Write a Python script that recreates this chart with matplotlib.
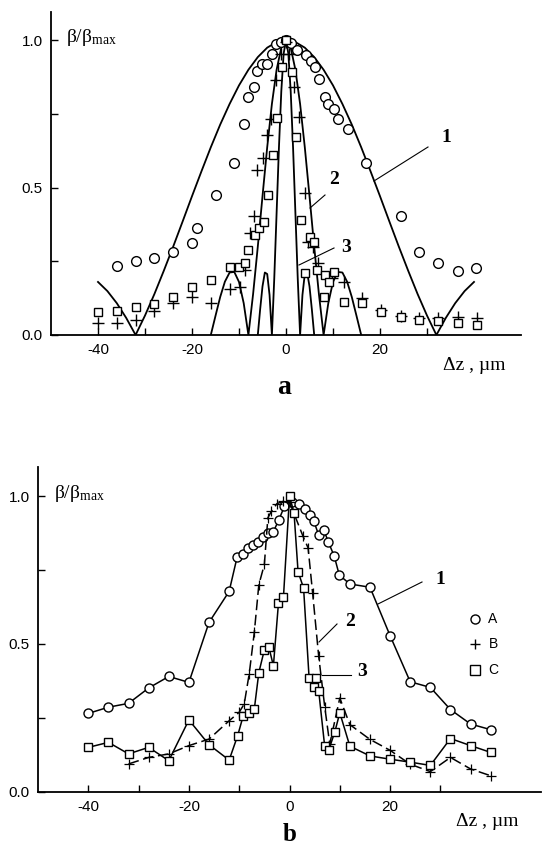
import matplotlib
matplotlib.use("Agg")
import matplotlib.pyplot as plt

plt.rcParams['mathtext.fontset'] = 'custom'
plt.rcParams['mathtext.rm'] = 'Liberation Serif'
plt.rcParams['mathtext.it'] = 'Liberation Serif:italic'

# --- panel a: theory curves ---
th1_x = [-40, -38, -36, -34, -32, -30, -28, -26, -24, -22, -20, -18, -16, -14, -12, -10, -8, -6, -4, -2,
         0, 2, 4, 6, 8, 10, 12, 14, 16, 18, 20, 22, 24, 26, 28, 30, 32, 34, 36, 38, 40]
th1_y = [0.180, 0.149, 0.108, 0.058, 0.0, 0.066, 0.139, 0.218, 0.300, 0.385, 0.471, 0.555, 0.637, 0.714,
         0.784, 0.847, 0.900, 0.943, 0.975, 0.994, 1.0, 0.994, 0.975, 0.943, 0.900, 0.847, 0.784, 0.714,
         0.637, 0.555, 0.471, 0.385, 0.300, 0.218, 0.139, 0.066, 0.0, 0.058, 0.108, 0.149, 0.180]
th2_x = [-16, -15, -14, -13, -12, -11, -10, -9, -8, -7, -6, -5, -4, -3, -2, -1,
         0, 1, 2, 3, 4, 5, 6, 7, 8, 9, 10, 11, 12, 13, 14, 15, 16]
th2_y = [0.0, 0.065, 0.129, 0.181, 0.212, 0.214, 0.180, 0.108, 0.0, 0.139, 0.300, 0.471, 0.637, 0.784,
         0.900, 0.975, 1.0, 0.975, 0.900, 0.784, 0.637, 0.471, 0.300, 0.139, 0.0, 0.108, 0.180, 0.214,
         0.212, 0.181, 0.129, 0.065, 0.0]
th3_x = [-6, -5.5, -5, -4.5, -4, -3.5, -3, -2.5, -2, -1.5, -1, -0.5,
         0, 0.5, 1, 1.5, 2, 2.5, 3, 3.5, 4, 4.5, 5, 5.5, 6]
th3_y = [0.0, 0.087, 0.165, 0.212, 0.207, 0.136, 0.0, 0.191, 0.414, 0.637, 0.827, 0.955,
         1.0, 0.955, 0.827, 0.637, 0.414, 0.191, 0.0, 0.136, 0.207, 0.212, 0.165, 0.087, 0.0]

# --- panel a: measured points ---
a_A_x = [-36, -32, -28, -24, -20, -19, -15, -11, -8.9, -8.1, -6.9, -6.1, -5.2, -4.0, -3.0, -2.1, -1.0, 0,
         1.0, 2.3, 4.2, 5.4, 6.1, 7.0, 8.2, 9.0, 10.2, 11.1, 13.2, 17, 24.4, 28.3, 32.3, 36.5, 40.5]
a_A_y = [0.234, 0.252, 0.260, 0.281, 0.313, 0.363, 0.475, 0.583, 0.717, 0.807, 0.843, 0.896, 0.919, 0.920,
         0.955, 0.986, 0.994, 1.0, 0.991, 0.968, 0.949, 0.929, 0.910, 0.868, 0.808, 0.785, 0.768, 0.734,
         0.700, 0.582, 0.403, 0.280, 0.246, 0.218, 0.226]
a_B_x = [-40, -36, -32, -28, -24, -20, -16, -12, -9.8, -8.8, -7.7, -6.9, -6.1, -4.9, -4.0, -3.2, -2.1, -1.0,
         0, 0.7, 1.8, 2.8, 4.1, 4.7, 5.8, 6.9, 9.7, 12.3, 16.2, 20.3, 24.4, 28.3, 32.4, 36.5, 40.6]
a_B_y = [0.042, 0.042, 0.051, 0.081, 0.107, 0.130, 0.110, 0.155, 0.164, 0.220, 0.345, 0.403, 0.559, 0.599,
         0.678, 0.733, 0.864, 0.955, 0.994, 0.955, 0.840, 0.740, 0.482, 0.314, 0.300, 0.243, 0.195, 0.180,
         0.124, 0.085, 0.066, 0.058, 0.058, 0.062, 0.058]
a_C_x = [-40, -36, -32, -28, -24, -20, -16, -12, -9.9, -8.8, -8.0, -6.7, -5.8, -4.7, -3.8, -2.7, -1.9, -0.8,
         0, 1.2, 2.1, 3.2, 4.1, 5.1, 6.0, 6.7, 8.1, 8.2, 9.2, 10.2, 12.3, 16.2, 20.3, 24.4, 28.3, 32.4, 36.5, 40.6]
a_C_y = [0.077, 0.081, 0.096, 0.105, 0.130, 0.164, 0.186, 0.232, 0.232, 0.245, 0.288, 0.339, 0.362, 0.384,
         0.475, 0.610, 0.738, 0.910, 1.0, 0.893, 0.672, 0.390, 0.209, 0.331, 0.316, 0.220, 0.130, 0.203,
         0.181, 0.215, 0.113, 0.110, 0.079, 0.062, 0.051, 0.049, 0.040, 0.034]

# --- panel b: measured points ---
b_A_x = [-40, -36, -32, -28, -24, -20, -16, -12, -10.4, -9.3, -8.3, -7.3, -6.3, -5.3, -4.3, -3.2, -2.1, -1.0,
         0.4, 1.9, 3.0, 4.0, 4.8, 5.8, 6.8, 7.7, 8.9, 9.9, 12, 16, 20, 24, 28, 32, 36, 40]
b_A_y = [0.265, 0.286, 0.299, 0.351, 0.390, 0.370, 0.573, 0.678, 0.795, 0.805, 0.824, 0.834, 0.846, 0.862,
         0.874, 0.880, 0.921, 0.966, 0.980, 0.975, 0.956, 0.938, 0.917, 0.869, 0.887, 0.846, 0.797, 0.733,
         0.703, 0.692, 0.528, 0.372, 0.353, 0.278, 0.229, 0.210]
b_B_x = [-32, -28, -24, -20, -16, -12, -10, -9, -8, -7, -6.1, -5.0, -4.3, -3.6, -2.5, -1.2, 0,
         2.7, 3.7, 4.6, 5.8, 7.0, 8.0, 10, 12, 16, 20, 24, 28, 32, 36, 40]
b_B_y = [0.094, 0.116, 0.128, 0.156, 0.178, 0.240, 0.269, 0.297, 0.400, 0.539, 0.700, 0.769, 0.927, 0.949,
         0.975, 0.983, 0.980, 0.864, 0.825, 0.672, 0.459, 0.288, 0.161, 0.317, 0.227, 0.177, 0.140, 0.093,
         0.068, 0.116, 0.077, 0.054]
b_C_x = [-40, -36, -32, -28, -24, -20, -16, -12, -10.3, -9.2, -8.0, -7.0, -6.1, -5.0, -4.1, -3.2, -2.2, -1.2,
         0, 0.9, 1.7, 2.8, 3.9, 4.8, 5.3, 5.8, 7.0, 7.8, 9.0, 10, 12, 16, 20, 24, 28, 32, 36, 40]
b_C_y = [0.150, 0.167, 0.128, 0.150, 0.105, 0.243, 0.159, 0.107, 0.190, 0.257, 0.265, 0.279, 0.403, 0.480,
         0.489, 0.426, 0.637, 0.659, 1.0, 0.944, 0.745, 0.689, 0.384, 0.354, 0.384, 0.342, 0.153, 0.141,
         0.202, 0.267, 0.154, 0.121, 0.110, 0.100, 0.089, 0.180, 0.156, 0.133]

xticks_major = [-40, -20, 0, 20]
xticks_minor = [-30, -10, 10, 30]
yticks_major = [0.0, 0.5, 1.0]
yticks_minor = [0.25, 0.75]

W, H = 542, 848
fig = plt.figure(figsize=(W / 100, H / 100), dpi=100)

serif = 'Liberation Serif'
sans = 'Liberation Sans'
mk = dict(color='black', mfc='white', mec='black', mew=1.0)


def style_axes(ax, ytop):
    ax.set_xlim(-50, 50)
    ax.set_ylim(0, ytop)
    ax.spines['top'].set_visible(False)
    ax.spines['right'].set_visible(False)
    ax.spines['left'].set_linewidth(1.3)
    ax.spines['bottom'].set_linewidth(1.3)
    ax.set_xticks(xticks_major)
    ax.set_xticks(xticks_minor, minor=True)
    ax.set_yticks(yticks_major)
    ax.set_yticks(yticks_minor, minor=True)
    ax.set_xticklabels([str(t) for t in xticks_major])
    ax.set_yticklabels(['0.0', '0.5', '1.0'])
    ax.tick_params(which='both', direction='in', length=5, width=1.0, labelsize=11, pad=6)
    for lab in ax.get_xticklabels() + ax.get_yticklabels():
        lab.set_family(sans)


# --- panel a ---
ax1 = fig.add_axes([51 / W, 1 - 335 / H, 470 / W, 323 / H])
style_axes(ax1, 1.096)
ax1.plot(th1_x, th1_y, color='black', lw=1.3)
ax1.plot(th2_x, th2_y, color='black', lw=1.3)
ax1.plot(th3_x, th3_y, color='black', lw=1.3)
ax1.plot(a_A_x, a_A_y, ls='none', marker='o', ms=7, **mk)
ax1.plot(a_B_x, a_B_y, ls='none', marker='+', ms=8, **mk)
ax1.plot(a_C_x, a_C_y, ls='none', marker='s', ms=6, **mk)

# --- panel b ---
ax2 = fig.add_axes([38 / W, 1 - 791.7 / H, 503 / W, 325 / H])
style_axes(ax2, 1.10)
ax2.plot(b_A_x, b_A_y, color='black', lw=1.1, marker='o', ms=6.5, mfc='white', mec='black', mew=1.0)
ax2.plot(b_B_x, b_B_y, color='black', lw=1.1, ls=(0, (7, 3)), marker='+', ms=7.5, mew=0.9)
ax2.plot(b_C_x, b_C_y, color='black', lw=1.1, marker='s', ms=6, mfc='white', mec='black', mew=1.0)


def ftext(x, y, s, **kw):
    fig.text(x / W, 1 - y / H, s, **kw)


def fline(x0, y0, x1, y1):
    fig.add_artist(plt.Line2D([x0 / W, x1 / W], [1 - y0 / H, 1 - y1 / H], color='black', lw=0.8))


ylab = r'$\mathrm{β/β_{max}}$'
ftext(66, 37, ylab, fontsize=14, ha='left', va='center')
ftext(54, 494, ylab, fontsize=14, ha='left', va='center')
ftext(474, 365, 'Δz , µm', family=serif, fontsize=14, ha='center', va='center')
ftext(487, 821, 'Δz , µm', family=serif, fontsize=14, ha='center', va='center')
ftext(284, 387, 'a', family=serif, fontsize=20, weight='bold', ha='center', va='center')
ftext(290, 846, 'b', family=serif, fontsize=18, weight='bold', ha='center', va='bottom')

# curve labels, panel a
ftext(446, 138, '1', family=serif, fontsize=14, weight='bold', ha='center', va='center')
fline(428, 147, 374, 181)
ftext(334, 180, '2', family=serif, fontsize=14, weight='bold', ha='center', va='center')
fline(325, 195, 310, 208)
ftext(346, 247, '3', family=serif, fontsize=14, weight='bold', ha='center', va='center')
fline(334, 248, 299, 265)

# curve labels, panel b
ftext(440, 579, '1', family=serif, fontsize=14, weight='bold', ha='center', va='center')
fline(422, 582, 378, 604)
ftext(350, 621, '2', family=serif, fontsize=14, weight='bold', ha='center', va='center')
fline(337, 624, 319, 642)
ftext(362, 672, '3', family=serif, fontsize=14, weight='bold', ha='center', va='center')
fline(351, 675, 322, 675)

# legend, panel b
leg_y = [619, 644, 670]
leg_m = ['o', '+', 's']
leg_t = ['A', 'B', 'C']
for yy, m, t in zip(leg_y, leg_m, leg_t):
    fig.add_artist(plt.Line2D([475 / W], [1 - yy / H], marker=m, ms=6.5, mfc='white', mec='black',
                              mew=1.0, ls='none'))
    ftext(493, yy, t, family=sans, fontsize=10, ha='center', va='center')

fig.savefig('out.png', dpi=100)
